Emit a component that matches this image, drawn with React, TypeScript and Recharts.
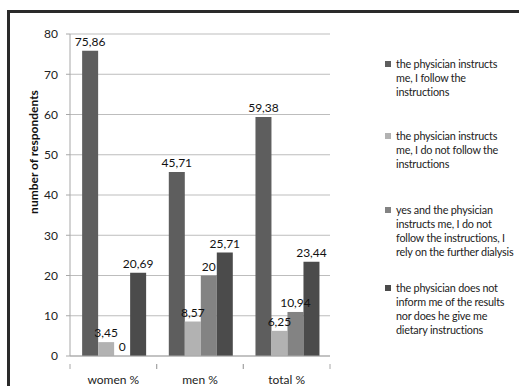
import { Bar, BarChart, CartesianGrid, LabelList, XAxis, YAxis } from 'recharts'

const CATEGORIES = ['women %', 'men %', 'total %']
const FOLLOW = [75.86, 45.71, 59.38]
const NOT_FOLLOW = [3.45, 8.57, 6.25]
const RELY_ON_DIALYSIS = [0, 20, 10.94]
const NOT_INFORMED = [20.69, 25.71, 23.44]
const Y_TICKS = [0, 10, 20, 30, 40, 50, 60, 70, 80]

// legend names keep the original line breaks (the source font wraps differently)
const SERIES = [
  {
    key: 'follow',
    values: FOLLOW,
    color: '#5e5e5e',
    name: 'the physician instructs\nme, I follow the\ninstructions',
  },
  {
    key: 'notFollow',
    values: NOT_FOLLOW,
    color: '#b2b2b2',
    name: 'the physician instructs\nme, I do not follow the\ninstructions',
  },
  {
    key: 'rely',
    values: RELY_ON_DIALYSIS,
    color: '#838383',
    name: 'yes and the physician\ninstructs me, I do not\nfollow the instructions, I\nrely on the further dialysis',
  },
  {
    key: 'notInformed',
    values: NOT_INFORMED,
    color: '#4b4b4b',
    name: 'the physician does not\ninform me of the results\nnor does he give me\ndietary instructions',
  },
]

const data = CATEGORIES.map((cat, i) => {
  const row: Record<string, string | number> = { cat }
  for (const s of SERIES) row[s.key] = s.values[i]
  return row
})

const FONT = 'Lato, "Noto Sans", sans-serif'
const W = 519
const H = 386
const MARGIN = { top: 34, right: 189, left: 10, bottom: 0 }
const Y_AXIS_W = 60
const PLOT_W = W - MARGIN.left - MARGIN.right - Y_AXIS_W
const BAND = PLOT_W / CATEGORIES.length

const fmt = (v: unknown) => String(v).replace('.', ',')

// custom label so that the zero bar still gets its "0"
function ValueLabel(props: any) {
  const { x, y, width, value } = props
  return (
    <text
      x={x + width / 2}
      y={y - 5}
      textAnchor="middle"
      fontSize={12}
      fill="#111"
      fontFamily={FONT}
    >
      {fmt(value)}
    </text>
  )
}

// Excel-style ticks sit on the category boundaries, not the centres
function CategoryTick(props: any) {
  const { x, y, payload } = props
  return (
    <g>
      <line x1={x - BAND / 2} x2={x - BAND / 2} y1={y} y2={y + 5} stroke="#a8a8a8" />
      <line x1={x + BAND / 2} x2={x + BAND / 2} y1={y} y2={y + 5} stroke="#a8a8a8" />
      <text x={x} y={y + 20} textAnchor="middle" fontSize={12} fill="#222" fontFamily={FONT}>
        {payload.value}
      </text>
    </g>
  )
}

function YTitle(props: any) {
  const { viewBox } = props
  const cx = viewBox.x + 23
  const cy = viewBox.y + viewBox.height / 2 - 43
  return (
    <text
      x={cx}
      y={cy}
      transform={`rotate(-90 ${cx} ${cy})`}
      textAnchor="middle"
      dominantBaseline="central"
      fontSize={12}
      fontWeight="bold"
      fill="#111"
      fontFamily={FONT}
    >
      number of respondents
    </text>
  )
}

const LEGEND_HEIGHTS = [72, 74, 78, 56]

export default function App() {
  return (
    <div style={{ position: 'absolute', left: 0, top: 0, width: W, height: H, background: '#fff', overflow: 'hidden' }}>
      <div
        style={{
          position: 'absolute',
          left: 7,
          top: 10,
          width: W - 7,
          height: H - 10,
          borderTop: '3px solid #2a2a2a',
          borderLeft: '3px solid #2a2a2a',
          boxSizing: 'border-box',
        }}
      />
      <div style={{ position: 'absolute', left: 0, top: 0 }}>
        <BarChart
          width={W}
          height={H}
          data={data}
          margin={MARGIN}
          barCategoryGap="14%"
          barGap={0}
        >
          <CartesianGrid vertical={false} stroke="#bdbdbd" />
          <XAxis
            dataKey="cat"
            height={30}
            axisLine={{ stroke: '#a8a8a8' }}
            tickLine={false}
            tick={<CategoryTick />}
            interval={0}
          />
          <YAxis
            width={Y_AXIS_W}
            domain={[0, 80]}
            ticks={Y_TICKS}
            axisLine={{ stroke: '#a8a8a8' }}
            tickLine={{ stroke: '#a8a8a8' }}
            tickSize={4}
            tickMargin={8}
            tick={{ fontSize: 12, fill: '#222', fontFamily: FONT }}
            label={<YTitle />}
          />
          {SERIES.map((s) => (
            <Bar
              key={s.key}
              dataKey={s.key}
              fill={s.color}
              minPointSize={0.01}
              isAnimationActive={false}
            >
              <LabelList dataKey={s.key} content={<ValueLabel />} />
            </Bar>
          ))}
        </BarChart>
      </div>
      <div
        style={{
          position: 'absolute',
          left: 385,
          top: 57,
          width: 134,
          fontFamily: FONT,
          fontSize: 10.8,
          letterSpacing: -0.2,
          lineHeight: '14px',
          color: '#222',
        }}
      >
        {SERIES.map((s, i) => (
          <div key={s.key} style={{ display: 'flex', height: LEGEND_HEIGHTS[i] }}>
            <span
              style={{
                width: 6,
                height: 6,
                background: s.color,
                marginTop: 4,
                marginRight: 5,
                flexShrink: 0,
              }}
            />
            <span style={{ whiteSpace: 'pre', flexShrink: 0 }}>{s.name}</span>
          </div>
        ))}
      </div>
    </div>
  )
}
